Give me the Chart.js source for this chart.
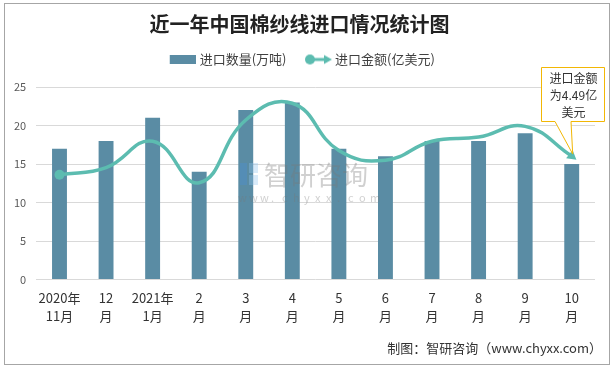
<!DOCTYPE html>
<html>
<head>
<meta charset="utf-8">
<script src="https://cdn.jsdelivr.net/npm/chart.js@4/dist/chart.umd.min.js"></script>
<style>
  html, body { margin: 0; padding: 0; background: #fff; }
  #wrap { width: 614px; height: 369px; }
</style>
</head>
<body>
<div id="wrap"><canvas id="c" width="614" height="369"></canvas></div>
<script>
const months = [['2020年','11月'],['12','月'],['2021年','1月'],['2','月'],['3','月'],['4','月'],['5','月'],['6','月'],['7','月'],['8','月'],['9','月'],['10','月']];
const volume = [17, 18, 21, 14, 22, 23, 17, 16, 18, 18, 19, 15];       // 万吨
const amount = [3.81, 4.07, 5.03, 3.52, 5.80, 6.41, 4.69, 4.34, 5.03, 5.18, 5.57, 4.49]; // 亿美元
const yTicks = [0, 5, 10, 15, 20, 25];

const FONT = '"Noto Sans CJK SC", "Microsoft YaHei", sans-serif';
const barColor = '#5a8ca4';
const lineColor = '#5cbcb0';
const last = amount.length - 1;

// legend icons (transparent margin on the left gives the gap between items)
function barIcon() {
  const c = document.createElement('canvas'); c.width = 34; c.height = 9;
  const g = c.getContext('2d'); g.fillStyle = barColor; g.fillRect(8, 0, 26, 9);
  return c;
}
function lineIcon() {
  const c = document.createElement('canvas'); c.width = 36; c.height = 12;
  const g = c.getContext('2d');
  g.strokeStyle = lineColor; g.fillStyle = lineColor; g.lineWidth = 3;
  g.beginPath(); g.moveTo(13, 6); g.lineTo(31, 6); g.stroke();
  g.beginPath(); g.arc(14, 6, 5, 0, Math.PI * 2); g.fill();
  g.beginPath(); g.moveTo(36, 6); g.lineTo(28, 1.5); g.lineTo(28, 10.5); g.closePath(); g.fill();
  return c;
}

const frame = {
  id: 'frame',
  beforeLayout(chart) {
    const lg = chart.legend;
    if (lg && !lg._patched) {
      const fit = lg.fit.bind(lg);
      lg.fit = function () { fit(); this.height += 11; };
      lg._patched = true;
    }
  },
  beforeDraw(chart) {
    const g = chart.ctx;
    g.save();
    g.fillStyle = '#fff'; g.fillRect(0, 0, chart.width, chart.height);
    g.strokeStyle = '#a6a6a6'; g.lineWidth = 1;
    g.strokeRect(4.5, 3.5, 605, 361);
    g.restore();
  },
  afterDraw(chart) {
    const g = chart.ctx;
    g.save();
    // watermark
    g.globalAlpha = 0.35;
    g.fillStyle = '#4a90d9';
    g.fillRect(240, 163, 7, 22);
    g.fillStyle = '#8fc3ee';
    g.fillRect(249, 163, 9, 10); g.fillRect(249, 175, 9, 10);
    g.fillStyle = '#777';
    g.font = '26px ' + FONT; g.textBaseline = 'middle'; g.textAlign = 'left';
    g.fillText('智研咨询', 264, 175);
    g.font = '11px ' + FONT;
    const url = 'www.chyxx.com';
    for (let i = 0; i < url.length; i++) g.fillText(url[i], 238 + i * 11, 198);
    g.globalAlpha = 1;

    // callout for the last point
    const pt = chart.getDatasetMeta(1).data[last];
    const bx = 541, by = 67, bw = 63, bh = 54;
    g.fillStyle = '#fff'; g.strokeStyle = '#f2b705'; g.lineWidth = 1;
    g.beginPath();
    g.moveTo(bx + 0.5, by + 0.5);
    g.lineTo(bx + bw + 0.5, by + 0.5);
    g.lineTo(bx + bw + 0.5, by + bh + 0.5);
    g.lineTo(bx + 30, by + bh + 0.5);
    g.lineTo(pt.x + 1, pt.y - 2);
    g.lineTo(bx + 14, by + bh + 0.5);
    g.lineTo(bx + 0.5, by + bh + 0.5);
    g.closePath();
    g.fill(); g.stroke();
    g.fillStyle = '#333'; g.font = '12px ' + FONT; g.textAlign = 'center';
    ['进口金额', '为4.49亿', '美元'].forEach((t, i) => g.fillText(t, bx + bw / 2 + 1, by + 11 + i * 17));

    // source line
    g.font = '13px ' + FONT; g.textAlign = 'right'; g.fillStyle = '#333';
    g.fillText('制图：智研咨询（www.chyxx.com）', 602, 348);
    g.restore();
  }
};

new Chart(document.getElementById('c'), {
  data: {
    labels: months,
    datasets: [
      {
        type: 'bar', label: '进口数量(万吨)', data: volume, yAxisID: 'y',
        backgroundColor: barColor, barPercentage: 0.64, categoryPercentage: 0.5, order: 2
      },
      {
        type: 'line', label: '进口金额(亿美元)', data: amount, yAxisID: 'y1',
        borderColor: lineColor, backgroundColor: lineColor, borderWidth: 3.5, tension: 0.45,
        pointRadius: amount.map((v, i) => i === 0 ? 5 : (i === last ? 6 : 0)),
        pointStyle: amount.map((v, i) => i === last ? 'triangle' : 'circle'),
        pointRotation: amount.map((v, i) => i === last ? 128 : 0),
        pointBorderWidth: 0, order: 1
      }
    ]
  },
  options: {
    responsive: false, animation: false,
    layout: { padding: { left: 4, right: 19, top: 4, bottom: 43 } },
    plugins: {
      title: {
        display: true, text: '近一年中国棉纱线进口情况统计图', color: '#222',
        font: { family: FONT, size: 20, weight: 'bold' }, padding: { top: 8, bottom: 4 }
      },
      legend: {
        labels: {
          usePointStyle: true, pointStyleWidth: 29, color: '#404040', padding: 13,
          font: { family: FONT, size: 13 },
          generateLabels: chart => chart.data.datasets.map((d, i) => ({
            text: d.label, datasetIndex: i, pointStyle: i === 0 ? barIcon() : lineIcon(),
            fontColor: '#404040', lineWidth: 0, hidden: false
          }))
        }
      },
      tooltip: { enabled: false }
    },
    scales: {
      x: {
        grid: { display: false }, border: { display: false },
        ticks: { color: '#333', padding: 1, font: { family: FONT, size: 13, lineHeight: 1.4 }, maxRotation: 0, autoSkip: false }
      },
      y: {
        min: 0, max: 25,
        afterBuildTicks: s => { s.ticks = yTicks.map(v => ({ value: v })); },
        grid: { color: '#d9d9d9', drawTicks: false }, border: { display: false },
        ticks: { color: '#595959', padding: 10, font: { family: FONT, size: 11 } }
      },
      y1: { min: 0, max: 7, display: false }
    }
  },
  plugins: [frame]
});
</script>
</body>
</html>
